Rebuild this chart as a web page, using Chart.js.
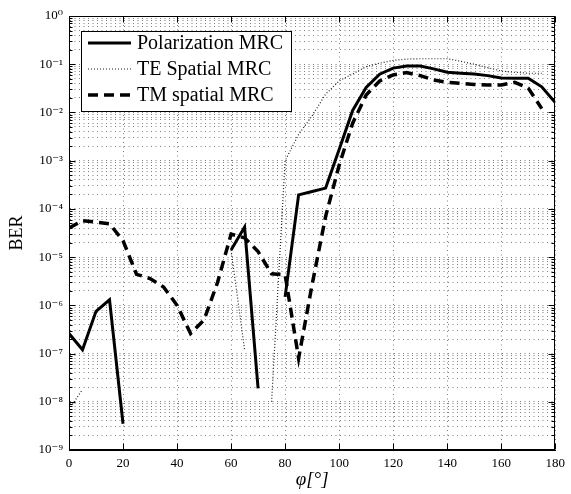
<!DOCTYPE html>
<html><head><meta charset="utf-8">
<script src="https://cdn.jsdelivr.net/npm/chart.js@4/dist/chart.umd.min.js"></script>
<style>html,body{margin:0;padding:0;background:#fff}</style>
</head><body>
<canvas id="c" width="571" height="494"></canvas>
<script>
// ---- data ----
const angles = [0,5,10,15,20,25,30,35,40,45,50,55,60,65,70,75,80,85,90,95,100,105,110,115,120,125,130,135,140,145,150,155,160,165,170,175,180];
const polarizationMRC = [2.6e-7,1.2e-7,7.5e-7,1.3e-6,3.5e-9,null,null,null,null,null,null,null,1.4e-5,4.2e-5,1.9e-8,null,1.5e-6,1.95e-4,2.3e-4,2.7e-4,1.7e-3,1.1e-2,3.3e-2,6.2e-2,8.3e-2,9.2e-2,9.2e-2,8.0e-2,6.8e-2,6.5e-2,6.3e-2,5.8e-2,5.2e-2,5.1e-2,5.1e-2,3.4e-2,1.6e-2];
const teSpatialMRC = [7e-9,1.8e-8,null,null,null,null,null,null,null,null,null,null,1.4e-5,1.2e-7,null,1e-8,1e-3,3.5e-3,8.5e-3,2.4e-2,4.5e-2,6.3e-2,8.9e-2,0.105,0.12,0.128,0.13,0.13,0.13,0.115,0.1,0.085,0.072,0.068,0.065,0.065,null];
const tmSpatialMRC = [4e-5,5.7e-5,5.3e-5,4.9e-5,2.2e-5,4.4e-6,3.6e-6,2.4e-6,1e-6,2.6e-7,5e-7,3e-6,3e-5,2.5e-5,1.3e-5,4.5e-6,4.3e-6,8e-8,2.7e-6,7e-5,8e-4,6e-3,2.3e-2,4.5e-2,6e-2,6.7e-2,5.8e-2,4.7e-2,4.2e-2,4e-2,3.8e-2,3.7e-2,3.7e-2,4.2e-2,3.2e-2,1.2e-2,null];
const seriesLabels = ['Polarization MRC','TE Spatial MRC','TM spatial MRC'];
const xTickValues = [0,20,40,60,80,100,120,140,160,180];
const yDecadeExponents = [-9,-8,-7,-6,-5,-4,-3,-2,-1,0];

const SERIF = '"Liberation Serif","DejaVu Serif",serif';
const SUP = {'-':'\u207B','0':'\u2070','1':'\u00B9','2':'\u00B2','3':'\u00B3','4':'\u2074','5':'\u2075','6':'\u2076','7':'\u2077','8':'\u2078','9':'\u2079'};
const sup = n => String(n).split('').map(c => SUP[c]).join('');
const pts = arr => angles.map((a,i) => ({x:a, y:arr[i]}));

const styles = [
  {borderWidth:3, borderDash:[], color:'#000'},
  {borderWidth:1.2, borderDash:[1,2], color:'#222'},
  {borderWidth:3.5, borderDash:[10,6], color:'#000'}
];

const framePlugin = {
  id:'frame',
  afterDraw(chart){
    const ctx = chart.ctx, a = chart.chartArea;
    const xs = chart.scales.x, ys = chart.scales.y;
    ctx.save();
    ctx.strokeStyle = '#000'; ctx.lineWidth = 1; ctx.setLineDash([]);
    const L = Math.round(a.left)+0.5, R = Math.round(a.right)-0.5, T = Math.round(a.top)+0.5, B = Math.round(a.bottom)-0.5;
    ctx.strokeRect(L, T, R-L, B-T);
    // inward ticks
    ctx.beginPath();
    xTickValues.forEach(v => {
      const px = Math.round(xs.getPixelForValue(v))+0.5;
      ctx.moveTo(px,B); ctx.lineTo(px,B-6);
      ctx.moveTo(px,T); ctx.lineTo(px,T+6);
    });
    yDecadeExponents.forEach(e => {
      for (let m=1;m<=9;m++){
        if (e===0 && m>1) break;
        const py = Math.round(ys.getPixelForValue(m*Math.pow(10,e)))+0.5;
        const len = m===1 ? 6 : 3;
        ctx.moveTo(L,py); ctx.lineTo(L+len,py);
        ctx.moveTo(R,py); ctx.lineTo(R-len,py);
      }
    });
    ctx.stroke();
    // legend box
    const bx = 81.5, by = 31.5, bw = 210, bh = 80;
    ctx.fillStyle = '#fff';
    ctx.fillRect(bx,by,bw,bh);
    ctx.strokeRect(bx,by,bw,bh);
    const rows = [43,69,95];
    chart.data.datasets.forEach((ds,i) => {
      ctx.save();
      ctx.lineWidth = ds.borderWidth;
      ctx.setLineDash(ds.borderDash||[]);
      ctx.strokeStyle = ds.borderColor;
      ctx.beginPath(); ctx.moveTo(88,rows[i]); ctx.lineTo(131,rows[i]); ctx.stroke();
      ctx.restore();
      ctx.fillStyle = '#000';
      ctx.font = '20px '+SERIF;
      ctx.textBaseline = 'middle';
      ctx.fillText(ds.label, 137, rows[i]+1);
    });
    ctx.restore();
  }
};

new Chart(document.getElementById('c'), {
  type:'line',
  data:{
    datasets:[polarizationMRC, teSpatialMRC, tmSpatialMRC].map((arr,i) => ({
      label: seriesLabels[i],
      data: pts(arr),
      borderColor: styles[i].color,
      backgroundColor: styles[i].color,
      borderWidth: styles[i].borderWidth,
      borderDash: styles[i].borderDash,
      pointRadius:0,
      tension:0,
      spanGaps:false,
      fill:false
    }))
  },
  options:{
    responsive:false, animation:false, devicePixelRatio:1,
    layout:{padding:{left:0,right:10,top:16,bottom:0}},
    plugins:{legend:{display:false}, tooltip:{enabled:false}},
    scales:{
      x:{
        type:'linear', min:0, max:180,
        afterBuildTicks: s => { s.ticks = xTickValues.map(v => ({value:v})); },
        afterFit: s => { s.height = 44; },
        ticks:{font:{family:SERIF,size:13}, color:'#000', padding:6, maxRotation:0, autoSkip:false},
        grid:{color:'rgba(0,0,0,0.5)', lineWidth:1, drawTicks:false},
        border:{display:true, color:'#000', width:1, dash:[1,3.5]},
        title:{display:true, text:'\u03C6[\u00B0]', color:'#000', font:{family:SERIF,size:19,style:'italic'}, padding:{top:0,bottom:3}}
      },
      y:{
        type:'logarithmic', min:1e-9, max:1,
        afterBuildTicks: s => {
          const t = [];
          yDecadeExponents.forEach(e => { for (let m=1;m<=9;m++){ if (e===0 && m>1) break; t.push({value:m*Math.pow(10,e), major:m===1}); } });
          s.ticks = t;
        },
        afterFit: s => { s.width = 69; },
        ticks:{
          font:{family:SERIF,size:13}, color:'#000', padding:6, autoSkip:false,
          callback: v => { const l = Math.log10(v), r = Math.round(l); return Math.abs(l-r) < 1e-6 ? '10'+sup(r) : ''; }
        },
        grid:{color:'rgba(0,0,0,0.5)', lineWidth:1, drawTicks:false},
        border:{display:true, color:'#000', width:1, dash:[1,3.5]},
        title:{display:true, text:'BER', color:'#000', font:{family:SERIF,size:18}, padding:{top:6,bottom:0}}
      }
    }
  },
  plugins:[framePlugin]
});
</script>
</body></html>
